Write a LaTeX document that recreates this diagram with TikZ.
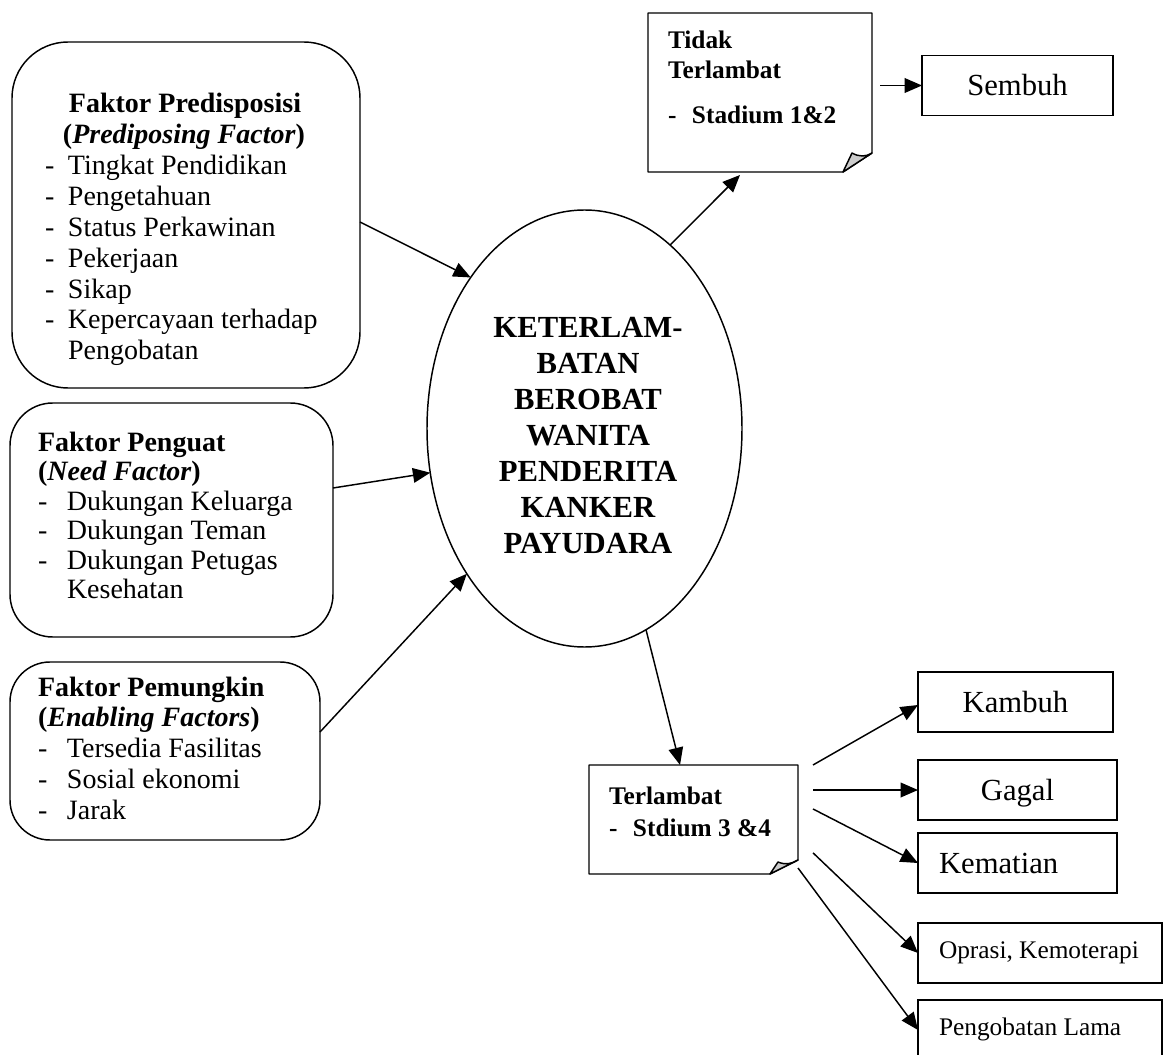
\documentclass[tikz,border=0pt]{standalone}
\usepackage{fontspec}
\setmainfont{Liberation Serif}
\usetikzlibrary{shapes.geometric,arrows.meta,calc}
\newcommand\dsh[1]{\makebox[#1][l]{-}}
\begin{document}
\begin{tikzpicture}[x=0.75pt,y=-0.75pt,
  every node/.style={inner sep=0pt,outer sep=0pt},
  ln/.style={line width=1.1pt},
  arr/.style={ln,-{Triangle[length=13pt,width=11pt]}},
  rbox/.style={draw,ln,rectangle,rounded corners=#1},
  sbox/.style={draw,ln,rectangle,minimum height=45pt,text height=15pt,text depth=0pt,font=\fontsize{23}{27}\selectfont},
  ssbox/.style={draw,ln,rectangle,minimum height=45pt,text height=12pt,text depth=4pt,font=\fontsize{19}{23}\selectfont,inner xsep=15.75pt},
  notebox/.style={rectangle,draw=none},
  flap/.style={ln,fill=black!20,line join=round},
  bodyA/.style={font=\fontsize{21}{23.1}\selectfont},
  bodyB/.style={font=\fontsize{21}{22.2}\selectfont},
  bodyC/.style={font=\fontsize{21}{23.1}\selectfont},
  titleA/.style={font=\bfseries\fontsize{21}{23.1}\selectfont},
]
\useasboundingbox (0,0) rectangle (1164,1055);
\clip (0,0) rectangle (1164,1055);

% ---------- left boxes ----------
\node[rbox=42pt,minimum width=261pt,minimum height=259.5pt] (pre) at (186,215) {};
\node[rbox=32pt,minimum width=242.25pt,minimum height=175.5pt] (pen) at (171.5,520) {};
\node[rbox=30pt,minimum width=232.5pt,minimum height=133.5pt] (pem) at (165,751) {};

\node[titleA,anchor=base] (pret) at (185,113) {Faktor Predisposisi};
\node[titleA,anchor=base] (pres) at (184,144) {(\textit{Prediposing Factor})};
\node[bodyA,anchor=base west] (prel) at (45,175) {\begin{tabular}[t]{@{}l@{}l@{}}
\dsh{17.25pt}&Tingkat Pendidikan\\
\dsh{17.25pt}&Pengetahuan\\
\dsh{17.25pt}&Status Perkawinan\\
\dsh{17.25pt}&Pekerjaan\\
\dsh{17.25pt}&Sikap\\
\dsh{17.25pt}&Kepercayaan terhadap\\
&Pengobatan
\end{tabular}};

\node[bodyB,anchor=base west] (penl) at (38,451) {\begin{tabular}[t]{@{}l@{}l@{}}
\multicolumn{2}{@{}l@{}}{\bfseries Faktor Penguat}\\
\multicolumn{2}{@{}l@{}}{\bfseries(\textit{Need Factor})}\\
\dsh{21.75pt}&Dukungan Keluarga\\
\dsh{21.75pt}&Dukungan Teman\\
\dsh{21.75pt}&Dukungan Petugas\\
&Kesehatan
\end{tabular}};

\node[bodyC,anchor=base west] (peml) at (38,696) {\begin{tabular}[t]{@{}l@{}l@{}}
\multicolumn{2}{@{}l@{}}{\bfseries Faktor Pemungkin}\\
\multicolumn{2}{@{}l@{}}{\bfseries(\textit{Enabling Factors})}\\
\dsh{21.75pt}&Tersedia Fasilitas\\
\dsh{21.75pt}&Sosial ekonomi\\
\dsh{21.75pt}&Jarak
\end{tabular}};

% ---------- central ellipse ----------
\node[draw,ln,ellipse,minimum width=236.25pt,minimum height=327.75pt] (kel) at (584.5,428.5) {};
\node[font=\bfseries\fontsize{23}{27}\selectfont,anchor=base] (kelt) at (588,338) {\begin{tabular}[t]{@{}c@{}}
KETERLAM-\\BATAN\\BEROBAT\\WANITA\\PENDERITA\\KANKER\\PAYUDARA
\end{tabular}};

% ---------- Tidak Terlambat (note) ----------
\node[notebox,minimum width=168pt,minimum height=119.25pt] (tdk) at (760,92.5) {};
\draw[ln,line join=round] (tdk.north west) -- (tdk.north east) -- ($(tdk.south east)+(0,-19)$) -- ($(tdk.south east)+(-29,0)$) -- (tdk.south west) -- cycle;
\draw[flap] ($(tdk.south east)+(-29,0)$) -- ($(tdk.south east)+(-20,-19)$) .. controls ($(tdk.south east)+(-13,-15)$) and ($(tdk.south east)+(-6,-15)$) .. ($(tdk.south east)+(0,-19)$) -- cycle;
\node[font=\bfseries\fontsize{19}{22.5}\selectfont,anchor=base west] (tdkt) at (668,49) {\begin{tabular}[t]{@{}l@{}l@{}}
\multicolumn{2}{@{}l@{}}{Tidak}\\
\multicolumn{2}{@{}l@{}}{Terlambat}\\[11.25pt]
\dsh{18pt}&Stadium 1\&2
\end{tabular}};

% ---------- Terlambat (note) ----------
\node[notebox,minimum width=156.75pt,minimum height=81.75pt] (trl) at (693.5,819.5) {};
\draw[ln,line join=round] (trl.north west) -- (trl.north east) -- ($(trl.south east)+(0,-14)$) -- ($(trl.south east)+(-28,0)$) -- (trl.south west) -- cycle;
\draw[flap] ($(trl.south east)+(-28,0)$) -- ($(trl.south east)+(-20,-12)$) .. controls ($(trl.south east)+(-13,-9)$) and ($(trl.south east)+(-6,-10)$) .. ($(trl.south east)+(0,-14)$) -- cycle;
\node[font=\bfseries\fontsize{19}{24}\selectfont,anchor=base west] (trlt) at (609,804) {\begin{tabular}[t]{@{}l@{}l@{}}
\multicolumn{2}{@{}l@{}}{Terlambat}\\
\dsh{18pt}&Stdium 3 \&4
\end{tabular}};

% ---------- outcome boxes ----------
\node[sbox,minimum width=143.25pt] (smb) at (1017.5,85.5) {Sembuh};
\node[sbox,minimum width=146.25pt] (kmb) at (1015.5,702) {Kambuh};
\node[sbox,minimum width=149.25pt] (ggl) at (1017.5,790) {Gagal};
\node[sbox,minimum width=149.25pt,inner xsep=15.75pt] (kmt) at (1017.5,863) {\makebox[117.75pt][l]{Kematian}};
\node[ssbox,minimum width=183pt] (ops) at (1040,953) {\makebox[151.5pt][l]{Oprasi, Kemoterapi}};
\node[ssbox,minimum width=183pt] (png) at (1040,1030) {\makebox[151.5pt][l]{Pengobatan Lama}};

% ---------- connectors ----------
\coordinate (trlR) at ([xshift=11.25pt]trl.east);
\coordinate (tdkR) at ([xshift=6pt]tdk.east);

\draw[arr] ([yshift=-5.25pt]pre.east) -- (kel.127);
\draw[arr] ([yshift=24pt]pen.east) -- (kel.196);
\draw[arr] ([yshift=14.25pt]pem.east) -- (kel.231);
\draw[arr] (kel.65) -- ([xshift=-15pt,yshift=-2.25pt]tdk.south);
\draw[arr] (tdkR |- smb.west) -- (smb.west);
\draw[arr] (kel.287) -- ([xshift=-10.1pt]trl.north);
\draw[arr] (trlR |- trl.north) -- ([yshift=-2.25pt]kmb.west);
\draw[arr] (trlR |- ggl.west) -- (ggl.west);
\draw[arr] ([yshift=7.9pt]trlR) -- (kmt.west);
\draw[arr] ([yshift=-25pt]trlR) -- (ops.west);
\draw[arr] ([yshift=4.5pt]trl.south east) -- (png.west);
\end{tikzpicture}
\end{document}
